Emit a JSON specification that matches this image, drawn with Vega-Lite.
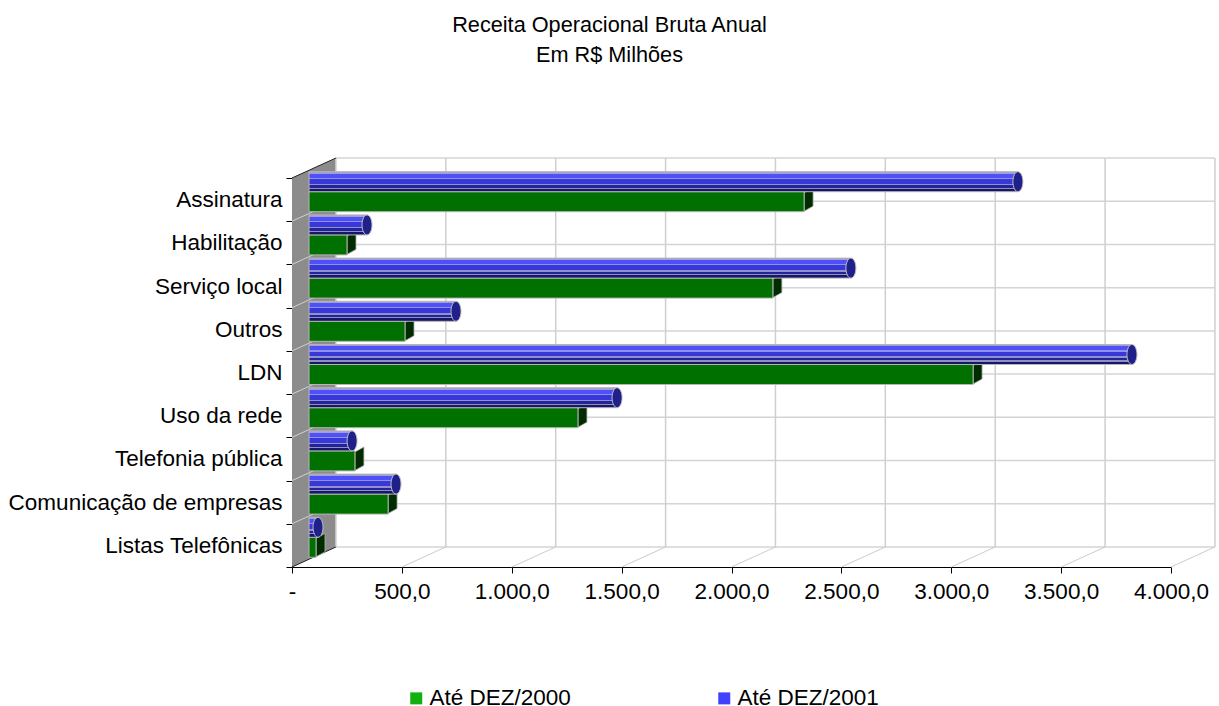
{
"$schema":"https://vega.github.io/schema/vega-lite/v6.json",
"width":879,"height":409,
"autosize":{"type":"none"},
"padding":{"left":292,"top":158,"right":48,"bottom":139},
"background":"white",
"config":{"view":{"stroke":null},"font":"Liberation Sans"},
"title":{"text":["Receita Operacional Bruta Anual","Em R$ Milhões"],"font":"Liberation Sans","fontSize":21.7,"fontWeight":"normal","color":"#000000","lineHeight":30,"anchor":"middle","dx":-122,"offset":80.5},
"datasets":{
"rows":[
{"cat":"Assinatura","series":"Até DEZ/2000","value":2253},
{"cat":"Assinatura","series":"Até DEZ/2001","value":3226},
{"cat":"Habilitação","series":"Até DEZ/2000","value":173},
{"cat":"Habilitação","series":"Até DEZ/2001","value":264},
{"cat":"Serviço local","series":"Até DEZ/2000","value":2111},
{"cat":"Serviço local","series":"Até DEZ/2001","value":2466},
{"cat":"Outros","series":"Até DEZ/2000","value":437},
{"cat":"Outros","series":"Até DEZ/2001","value":669},
{"cat":"LDN","series":"Até DEZ/2000","value":3022},
{"cat":"LDN","series":"Até DEZ/2001","value":3745},
{"cat":"Uso da rede","series":"Até DEZ/2000","value":1224},
{"cat":"Uso da rede","series":"Até DEZ/2001","value":1402},
{"cat":"Telefonia pública","series":"Até DEZ/2000","value":209},
{"cat":"Telefonia pública","series":"Até DEZ/2001","value":196},
{"cat":"Comunicação de empresas","series":"Até DEZ/2000","value":360},
{"cat":"Comunicação de empresas","series":"Até DEZ/2001","value":396},
{"cat":"Listas Telefônicas","series":"Até DEZ/2000","value":32},
{"cat":"Listas Telefônicas","series":"Até DEZ/2001","value":41}
],
"side":[{"x":0,"top":0,"bot":9},{"x":200,"top":-0.463,"bot":8.537}],
"backV":[
{"x":200,"y":-0.463,"y2":8.537},{"x":700,"y":-0.463,"y2":8.537},{"x":1200,"y":-0.463,"y2":8.537},{"x":1700,"y":-0.463,"y2":8.537},{"x":2200,"y":-0.463,"y2":8.537},{"x":2700,"y":-0.463,"y2":8.537},{"x":3200,"y":-0.463,"y2":8.537},{"x":3700,"y":-0.463,"y2":8.537},{"x":4200,"y":-0.463,"y2":8.537}],
"backH":[
{"y":-0.463},{"y":0.537},{"y":1.537},{"y":2.537},{"y":3.537},{"y":4.537},{"y":5.537},{"y":6.537},{"y":7.537},{"y":8.537}],
"floor":[
{"x":500,"x2":700},{"x":1000,"x2":1200},{"x":1500,"x2":1700},{"x":2000,"x2":2200},{"x":2500,"x2":2700},{"x":3000,"x2":3200},{"x":3500,"x2":3700},{"x":4000,"x2":4200}],
"sideDiag":[{"y":1,"y2":0.537},{"y":2,"y2":1.537},{"y":3,"y2":2.537},{"y":4,"y2":3.537},{"y":5,"y2":4.537},{"y":6,"y2":5.537},{"y":7,"y2":6.537},{"y":8,"y2":7.537}],
"edge":[{"y":0,"y2":-0.463},{"y":9,"y2":8.537}]
},
"layer":[
{"data":{"name":"side"},"mark":{"type":"area","color":"#8c8c8c"},
 "encoding":{"x":{"field":"x","type":"quantitative","scale":{"domain":[0,4000],"nice":false,"zero":false},
   "axis":{"title":null,"grid":false,"values":[0,500,1000,1500,2000,2500,3000,3500,4000],"tickSize":6,"tickColor":"#000000","domainColor":"#000000","labelFontSize":22.5,"labelColor":"#000000","labelPadding":7,"labelFont":"Liberation Sans","labelOverlap":false,"labelFlush":false,
   "labelExpr":"datum.value==0?'-':datum.value<1000?'500,0':floor(datum.value/1000)+'.'+(datum.value%1000==0?'000':'500')+',0'"}},
  "y":{"field":"top","type":"quantitative","scale":{"domain":[-0.463,9],"reverse":true,"nice":false,"zero":false},"axis":null},"y2":{"field":"bot"}}},
{"data":{"name":"sideDiag"},"mark":{"type":"rule","color":"#d0d0d0","strokeWidth":1},
 "encoding":{"x":{"datum":0,"type":"quantitative"},"x2":{"datum":200},"y":{"field":"y","type":"quantitative","scale":{"domain":[-0.463,9],"reverse":true,"nice":false,"zero":false},"axis":null},"y2":{"field":"y2"}}},
{"data":{"name":"backH"},"mark":{"type":"rule","color":"#d4d4d4","strokeWidth":1.5},
 "encoding":{"x":{"datum":200,"type":"quantitative"},"x2":{"datum":4200},"y":{"field":"y","type":"quantitative","scale":{"domain":[-0.463,9],"reverse":true,"nice":false,"zero":false},"axis":null}}},
{"data":{"name":"backV"},"mark":{"type":"rule","color":"#cfcfcf","strokeWidth":1.5},
 "encoding":{"x":{"field":"x","type":"quantitative"},"y":{"field":"y","type":"quantitative","scale":{"domain":[-0.463,9],"reverse":true,"nice":false,"zero":false},"axis":null},"y2":{"field":"y2"}}},
{"data":{"name":"floor"},"mark":{"type":"rule","color":"#cccccc","strokeWidth":1},
 "encoding":{"x":{"field":"x","type":"quantitative"},"x2":{"field":"x2"},"y":{"datum":9,"type":"quantitative","scale":{"domain":[-0.463,9],"reverse":true,"nice":false,"zero":false},"axis":null},"y2":{"datum":8.537}}},
{"data":{"name":"edge"},"mark":{"type":"rule","color":"#222222","strokeWidth":1},
 "encoding":{"x":{"datum":0,"type":"quantitative"},"x2":{"datum":200},"y":{"field":"y","type":"quantitative","scale":{"domain":[-0.463,9],"reverse":true,"nice":false,"zero":false},"axis":null},"y2":{"field":"y2"}}},
{"data":{"name":"rows"},"mark":{"type":"bar","opacity":0},
 "encoding":{
  "x":{"field":"value","type":"quantitative","stack":null},
  "y":{"field":"cat","type":"nominal","sort":null,"scale":{"range":[20,409],"paddingInner":0,"paddingOuter":0},
    "axis":{"title":null,"tickBand":"extent","tickSize":6,"tickColor":"#000000","domainColor":"#000000","labelFontSize":22.5,"labelColor":"#000000","labelPadding":4,"labelFont":"Liberation Sans","labelLimit":300,"labelOverlap":false}},
  "color":{"field":"series","type":"nominal","scale":{"domain":["Até DEZ/2000","Até DEZ/2001"],"range":["#10b010","#4040ff"]},
   "legend":{"title":null,"orient":"none","legendX":113,"legendY":529,"direction":"horizontal","columns":2,"columnPadding":142,"symbolType":"square","symbolSize":144,"symbolOpacity":1,"symbolStrokeWidth":0,"labelFontSize":22.5,"labelColor":"#000000","labelFont":"Liberation Sans","labelOffset":2,"labelLimit":300}}}},
{"data":{"name":"rows"},"transform":[{"filter":"datum.series=='Até DEZ/2000'"}],
 "mark":{"type":"point","filled":true,"opacity":1,"size":400,"fill":"#002c00","stroke":"#b5b5b5","strokeWidth":0.8,"xOffset":17,
   "shape":"M0,-0.9L0.9,-1.4L0.9,0.45L0,0.95Z"},
 "encoding":{"x":{"field":"value","type":"quantitative","stack":null},
  "y":{"field":"cat","type":"nominal","sort":null,"scale":{"range":[12.1,400.9],"paddingInner":0.074,"paddingOuter":0.037},"axis":null},
  "yOffset":{"field":"series","type":"nominal","scale":{"domain":["Até DEZ/2001","Até DEZ/2000"],"paddingInner":0,"paddingOuter":0}}}},
{"data":{"name":"rows"},"transform":[{"filter":"datum.series=='Até DEZ/2000'"}],
 "mark":{"type":"bar","fill":"#007000","stroke":"#b5b5b5","strokeWidth":1,"xOffset":17},
 "encoding":{"x":{"field":"value","type":"quantitative","stack":null},"x2":{"datum":77.4},
  "y":{"field":"cat","type":"nominal","sort":null,"scale":{"range":[12.1,400.9],"paddingInner":0.074,"paddingOuter":0.037},"axis":null},
  "yOffset":{"field":"series","type":"nominal","scale":{"domain":["Até DEZ/2001","Até DEZ/2000"],"paddingInner":0,"paddingOuter":0}}}},
{"data":{"name":"rows"},"transform":[{"filter":"datum.series=='Até DEZ/2001'"}],
 "mark":{"type":"bar","stroke":"#b5b5b5","strokeWidth":1,"xOffset":17,
  "fill":{"gradient":"linear","x1":0,"y1":0,"x2":0,"y2":1,"stops":[
   {"offset":0,"color":"#a0a0d0"},{"offset":0.1,"color":"#a0a0d0"},{"offset":0.1,"color":"#5050fa"},{"offset":0.3,"color":"#5050fa"},{"offset":0.3,"color":"#9090e8"},{"offset":0.36,"color":"#9090e8"},{"offset":0.36,"color":"#3838d8"},{"offset":0.6,"color":"#3838d8"},{"offset":0.6,"color":"#9090cc"},{"offset":0.68,"color":"#9090cc"},{"offset":0.68,"color":"#24249a"},{"offset":0.8,"color":"#24249a"},{"offset":0.8,"color":"#9090bc"},{"offset":0.86,"color":"#9090bc"},{"offset":0.86,"color":"#16166a"},{"offset":1,"color":"#16166a"}]}},
 "encoding":{"x":{"field":"value","type":"quantitative","stack":null},"x2":{"datum":77.4},
  "y":{"field":"cat","type":"nominal","sort":null,"scale":{"range":[12.1,400.9],"paddingInner":0.074,"paddingOuter":0.037},"axis":null},
  "yOffset":{"field":"series","type":"nominal","scale":{"domain":["Até DEZ/2001","Até DEZ/2000"],"paddingInner":0,"paddingOuter":0}}}},
{"data":{"name":"rows"},"transform":[{"filter":"datum.series=='Até DEZ/2001'"}],
 "mark":{"type":"point","filled":true,"opacity":1,"size":400,"fill":"#20208a","stroke":"#c0c0c0","strokeWidth":1,"xOffset":17,
   "shape":"M0,-1A0.5,1,0,1,1,0,1A0.5,1,0,1,1,0,-1Z"},
 "encoding":{"x":{"field":"value","type":"quantitative","stack":null},
  "y":{"field":"cat","type":"nominal","sort":null,"scale":{"range":[12.1,400.9],"paddingInner":0.074,"paddingOuter":0.037},"axis":null},
  "yOffset":{"field":"series","type":"nominal","scale":{"domain":["Até DEZ/2001","Até DEZ/2000"],"paddingInner":0,"paddingOuter":0}}}}
],
"resolve":{"scale":{"y":"independent"}}
}
